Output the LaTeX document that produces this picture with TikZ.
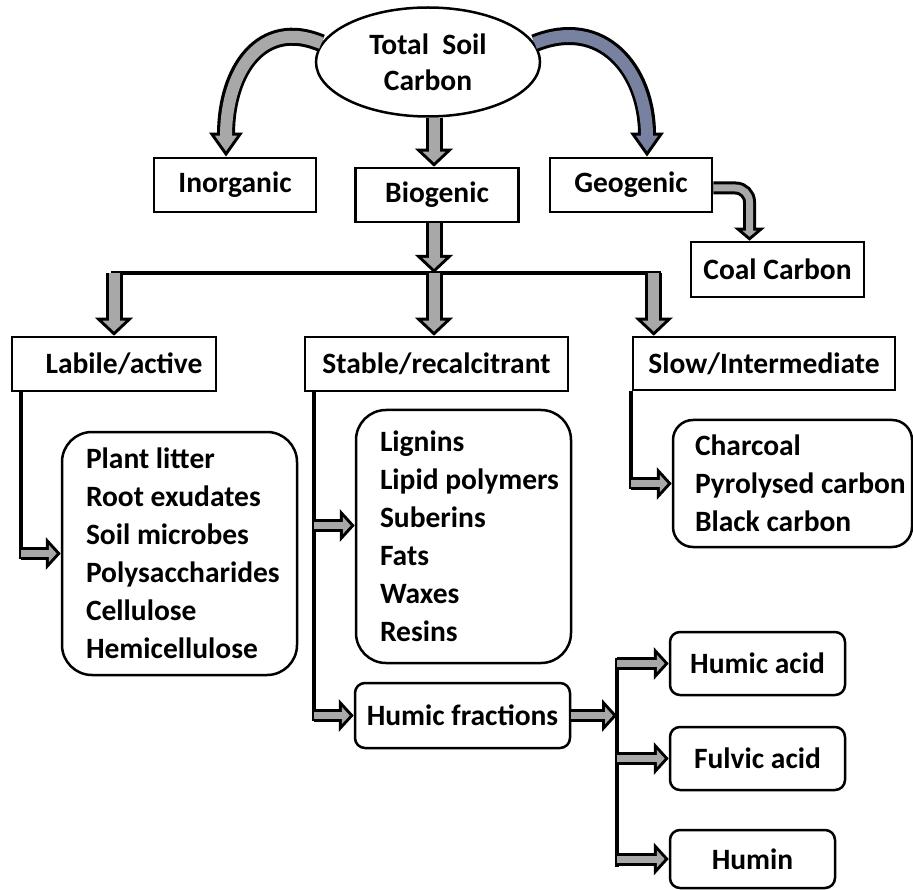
\documentclass[tikz,border=0pt]{standalone}
\usepackage{fontspec}
\setmainfont{Carlito}
\usetikzlibrary{arrows.meta, shapes.geometric, positioning}

\definecolor{fillgray}{RGB}{168,168,168}
\definecolor{fillblue}{RGB}{120,130,160}

\tikzset{
  box/.style={draw=black, line width=2.5pt, rectangle, inner sep=0pt},
  listbox/.style={box, rounded corners=#1, align=flush left, inner xsep=24pt},
  listbox/.default=30pt,
  trunk/.style={draw=black, line width=4.5pt},
  % block arrows: grey body drawn over a black silhouette
  bigarrow/.style={draw=fillgray, line width=11pt,
    -{Triangle[length=10.8pt,width=22.2pt]}, shorten >=4.2pt,
    preaction={draw=black, line width=17pt, -{Triangle[length=18pt,width=37pt]}, shorten >=0pt}},
  smallarrow/.style={draw=fillgray, line width=7pt,
    -{Triangle[length=7.9pt,width=16.9pt]}, shorten >=4.1pt,
    preaction={draw=black, line width=13pt, -{Triangle[length=15pt,width=32pt]}, shorten >=0pt}},
  curvearrow/.style={draw=#1, line width=12pt,
    -{Triangle[length=15.6pt,width=20.8pt]}, shorten >=5.4pt,
    preaction={draw=black, line width=18pt, -{Triangle[length=24pt,width=32pt]}, shorten >=0pt}},
  curvearrow/.default=fillgray,
  bendarrow/.style={draw=fillgray, line width=7pt, rounded corners=14pt,
    -{Triangle[length=6pt,width=13.8pt]}, shorten >=4pt,
    preaction={draw=black, line width=13pt, -{Triangle[length=13pt,width=30pt]}, shorten >=0pt}}
}

\begin{document}
\begin{tikzpicture}[x=1pt, y=-1pt,
  every node/.append style={font=\fontsize{29.5}{38}\selectfont\bfseries}]
  \useasboundingbox (0,0) rectangle (913,890);

  % Top level
  \node[ellipse, draw=black, line width=2.5pt, inner sep=0pt, align=center,
        minimum width=224pt, minimum height=109pt] (total) at (428,62) {Total~~Soil\\[-2pt]Carbon};
  \node[box, minimum width=162pt, minimum height=54pt] (inorg) at (235,185) {Inorganic};
  \node[box, minimum width=163pt, minimum height=54pt] (biog) at (437,195) {Biogenic};
  \node[box, minimum width=162pt, minimum height=54pt] (geog) at (631,185) {Geogenic};
  \node[box, minimum width=173pt, minimum height=55pt] (coal) at (777.5,269.5) {Coal Carbon};

  % Pools
  \node[box, minimum width=204pt, minimum height=54pt] (labile) at (114,364) {\hspace{20pt}Labile/active};
  \node[box, minimum width=263pt, minimum height=54pt] (stable) at (436.5,364) {Stable/recalcitrant};
  \node[box, minimum width=262pt, minimum height=53pt] (slow) at (764,363.5) {Slow/Intermediate};

  % Contents
  \node[listbox, text width=187pt, minimum height=243pt] (plant) at (179.5,553.5)
    {\mbox{Plant litter}\\\mbox{Root exudates}\\\mbox{Soil microbes}\\Polysaccharides\\Cellulose\\Hemicellulose};
  \node[listbox, text width=167pt, minimum height=253pt] (lignin) at (463.5,536.5)
    {Lignins\\\mbox{Lipid polymers}\\Suberins\\Fats\\Waxes\\Resins};
  \node[listbox=20pt, inner xsep=22pt, text width=195pt, minimum height=127pt] (char) at (792.5,483.5)
    {Charcoal\\\mbox{Pyrolysed carbon}\\\mbox{Black carbon}};
  \node[box, rounded corners=10pt, minimum width=215pt, minimum height=65pt] (humfr) at (462.5,715.5) {Humic fractions};
  \node[box, rounded corners=10pt, minimum width=175pt, minimum height=63pt] (hacid) at (757.5,663.5) {Humic acid};
  \node[box, rounded corners=10pt, minimum width=175pt, minimum height=63pt] (facid) at (757.5,758.5) {Fulvic acid};
  \node[box, rounded corners=10pt, minimum width=165pt, minimum height=58pt] (humin) at (752.5,859) {Humin};

  % Curved arrows from the top
  \draw[curvearrow] (total.170) .. controls (262,18) and (226,70) .. ([xshift=-9pt]inorg.north);
  \draw[curvearrow=fillblue] (total.10) .. controls (602,16) and (647,70) .. ([xshift=16pt]geog.north);
  \draw[bendarrow] ([yshift=-3pt]geog.east) -| ([xshift=-28pt]coal.north);

  % Biogenic split
  \coordinate (split) at (434,273);
  \draw[bigarrow] (split |- total.south) -- (split |- biog.north);
  \draw[trunk] (111,273) coordinate (barL) -- (661,273) coordinate (barR);
  \draw[bigarrow] (split |- biog.south) -- (split);
  \draw[bigarrow] (labile.north |- split) -- (labile.north);
  \draw[bigarrow] (split) -- (split |- stable.north);
  \draw[bigarrow] ([xshift=22pt]slow.north west |- split) -- ([xshift=22pt]slow.north west);

  % Labile branch
  \coordinate (labturn) at ([xshift=10pt]labile.south west |- plant.west);
  \draw[trunk] ([xshift=10pt]labile.south west) -- ([yshift=-5pt]labturn);
  \draw[smallarrow] (labturn) -- (plant.west);

  % Stable branch
  \coordinate (stabturn) at ([xshift=10pt]stable.south west |- humfr.west);
  \draw[trunk] ([xshift=10pt]stable.south west) -- ([yshift=-5pt]stabturn);
  \draw[smallarrow] ([yshift=11pt]stabturn |- lignin.west) -- ([yshift=11pt]lignin.west);
  \draw[smallarrow] (stabturn) -- (humfr.west);

  % Slow branch
  \coordinate (slowturn) at ([xshift=-1pt]slow.south west |- char.west);
  \draw[trunk] ([xshift=-1pt]slow.south west) -- ([yshift=-5pt]slowturn);
  \draw[smallarrow] (slowturn) -- (char.west);

  % Humic fractions
  \coordinate (fork) at (617,715.5);
  \draw[smallarrow] (humfr.east) -- (fork);
  \draw[trunk] ([yshift=6pt]fork |- hacid.west) -- ([yshift=-8pt]fork |- humin.west);
  \draw[smallarrow] (fork |- hacid.west) -- (hacid.west);
  \draw[smallarrow] (fork |- facid.west) -- (facid.west);
  \draw[smallarrow] (fork |- humin.west) -- (humin.west);
\end{tikzpicture}
\end{document}
